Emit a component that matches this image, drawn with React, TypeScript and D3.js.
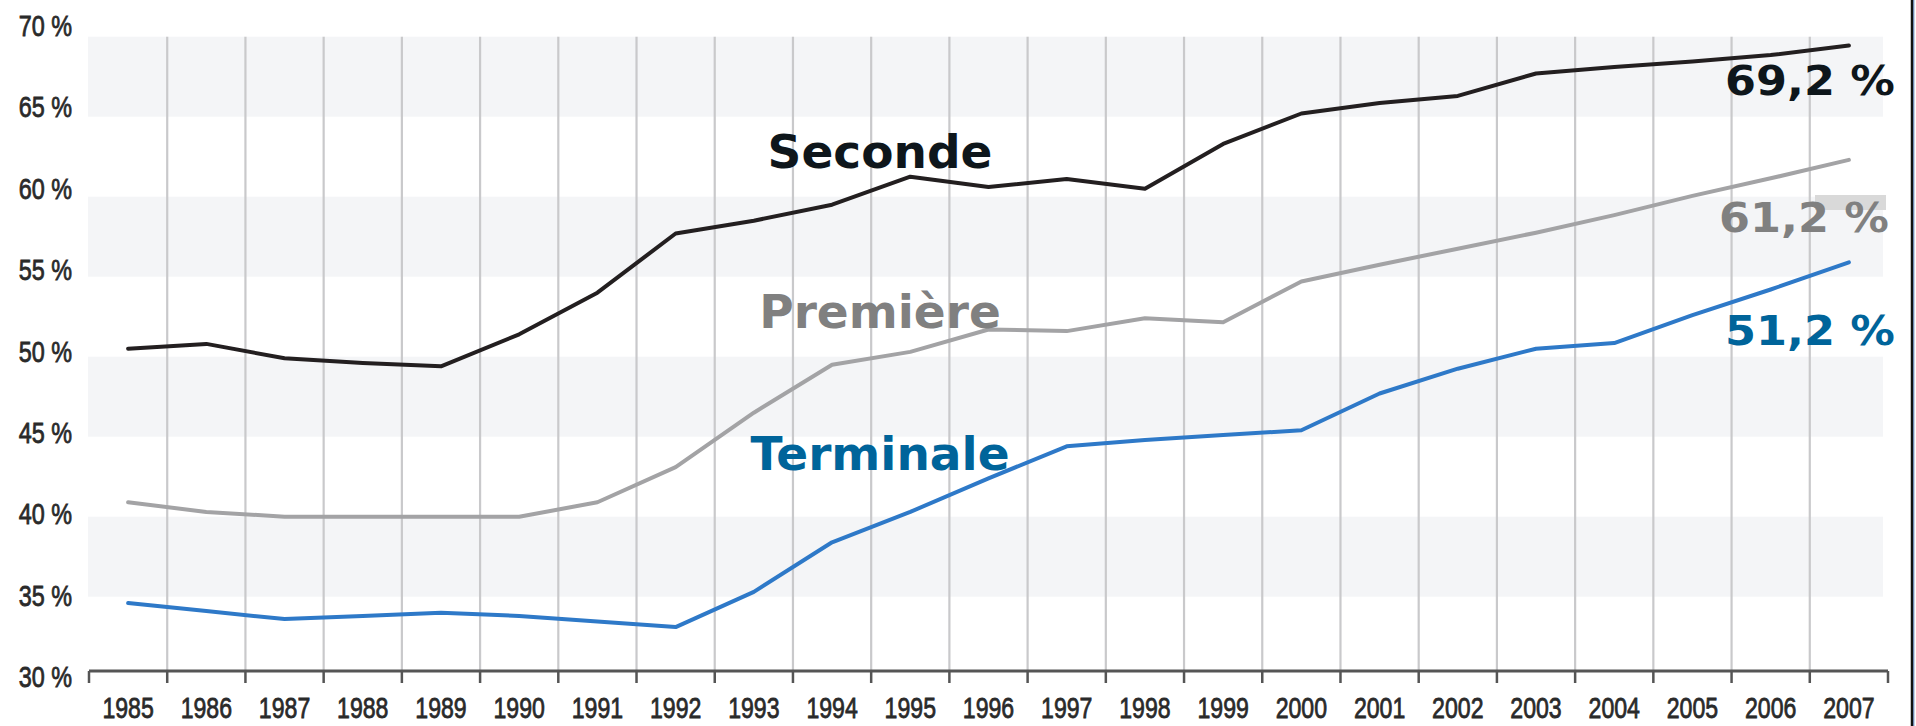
import React from "react";
import * as d3 from "d3";

const years: number[] = [1985,1986,1987,1988,1989,1990,1991,1992,1993,1994,1995,1996,1997,1998,1999,2000,2001,2002,2003,2004,2005,2006,2007];
const seconde: number[] = [50.5,50.8,49.9,49.6,49.4,51.4,54.0,57.7,58.5,59.5,61.25,60.6,61.1,60.5,63.3,65.2,65.85,66.3,67.7,68.1,68.45,68.85,69.45];
const premiere: number[] = [40.9,40.3,40.0,40.0,40.0,40.0,40.9,43.1,46.5,49.5,50.3,51.7,51.6,52.4,52.15,54.7,55.75,56.75,57.75,58.85,60.05,61.15,62.3];
const terminale: number[] = [34.6,34.1,33.6,33.8,34.0,33.8,33.45,33.1,35.3,38.4,40.3,42.4,44.4,44.8,45.1,45.4,47.7,49.25,50.5,50.85,52.6,54.2,55.9];
const yTicks: number[] = [30,35,40,45,50,55,60,65,70];
const bandStarts: number[] = [35,45,55,65];
const seriesNames: string[] = ["Seconde","Première","Terminale"];
const finalLabels: string[] = ["69,2 %","61,2 %","51,2 %"];

const W = 1916, H = 726;
const left = 89, right = 1888, bottom = 671;

export default function App() {
  const x = d3.scaleBand<number>().domain(years).range([left, right]).padding(0);
  const y = d3.scaleLinear().domain([30, 70]).range([676.7, 36.7]);
  const yLab = d3.scaleLinear().domain([30, 70]).range([687, 36]);
  const cx = (yr: number) => (x(yr) as number) + x.bandwidth() / 2;
  const line = d3.line<number>().x((_, i) => cx(years[i])).y(v => y(v));
  const boundaries = d3.range(years.length + 1).map(k => left + k * x.step());

  const series = [
    { data: seconde, stroke: "#231f20", text: "#0e161b", name: seriesNames[0], ny: 168, fy: 95, fx: 1895 },
    { data: premiere, stroke: "#a3a3a5", text: "#808080", name: seriesNames[1], ny: 328, fy: 232, fx: 1889 },
    { data: terminale, stroke: "#2e79c8", text: "#00649a", name: seriesNames[2], ny: 470, fy: 345, fx: 1895 },
  ];

  const cond = "Liberation Sans, Arial, sans-serif";
  const bold = "DejaVu Sans, Verdana, sans-serif";

  return (
    <svg width={W} height={H} style={{ position: "absolute", left: 0, top: 0, background: "#fff" }}>
      <rect x={0} y={0} width={W} height={H} fill="#fff" />
      {bandStarts.map(b => (
        <rect key={b} x={left - 1} y={y(b + 5)} width={1883 - left + 1} height={y(b) - y(b + 5)} fill="#f4f5f7" />
      ))}
      {boundaries.slice(1, -1).map((bx, i) => (
        <line key={i} x1={bx} x2={bx} y1={y(70)} y2={bottom} stroke="#c9c9cb" strokeWidth={2.2} />
      ))}
      <rect x={1815} y={195} width={71} height={15} fill="#d9d9d9" />
      {series.map(s => (
        <path key={s.name} d={line(s.data) || ""} fill="none" stroke={s.stroke} strokeWidth={4} strokeLinejoin="round" strokeLinecap="round" />
      ))}
      <line x1={left} x2={right} y1={bottom} y2={bottom} stroke="#555" strokeWidth={3} />
      {boundaries.map((bx, i) => (
        <line key={"t" + i} x1={bx} x2={bx} y1={bottom} y2={bottom + 12} stroke="#555" strokeWidth={2.5} />
      ))}
      {yTicks.map(t => (
        <text key={t} transform={`translate(72,${yLab(t)}) scale(0.78,1)`} textAnchor="end" fontFamily={cond} fontSize={30} fill="#2a2a2a" stroke="#2a2a2a" strokeWidth={0.8}>{`${t} %`}</text>
      ))}
      {years.map(yr => (
        <text key={yr} transform={`translate(${cx(yr)},718) scale(0.77,1)`} textAnchor="middle" fontFamily={cond} fontSize={30} fill="#2a2a2a" stroke="#2a2a2a" strokeWidth={0.8}>{yr}</text>
      ))}
      {series.map(s => (
        <text key={"n" + s.name} x={880} y={s.ny} textAnchor="middle" fontFamily={bold} fontWeight="bold" fontSize={47} fill={s.text}>{s.name}</text>
      ))}
      {series.map((s, i) => (
        <text key={"f" + s.name} x={s.fx - 170} y={s.fy} fontFamily={bold} fontWeight="bold" fontSize={40} fill={s.text} textLength={170} lengthAdjust="spacingAndGlyphs">{finalLabels[i]}</text>
      ))}
      <line x1={1912} x2={1912} y1={0} y2={H} stroke="#111" strokeWidth={2.5} />
      <line x1={1913.8} x2={1913.8} y1={0} y2={H} stroke="#4a6fa8" strokeWidth={1} />
    </svg>
  );
}
